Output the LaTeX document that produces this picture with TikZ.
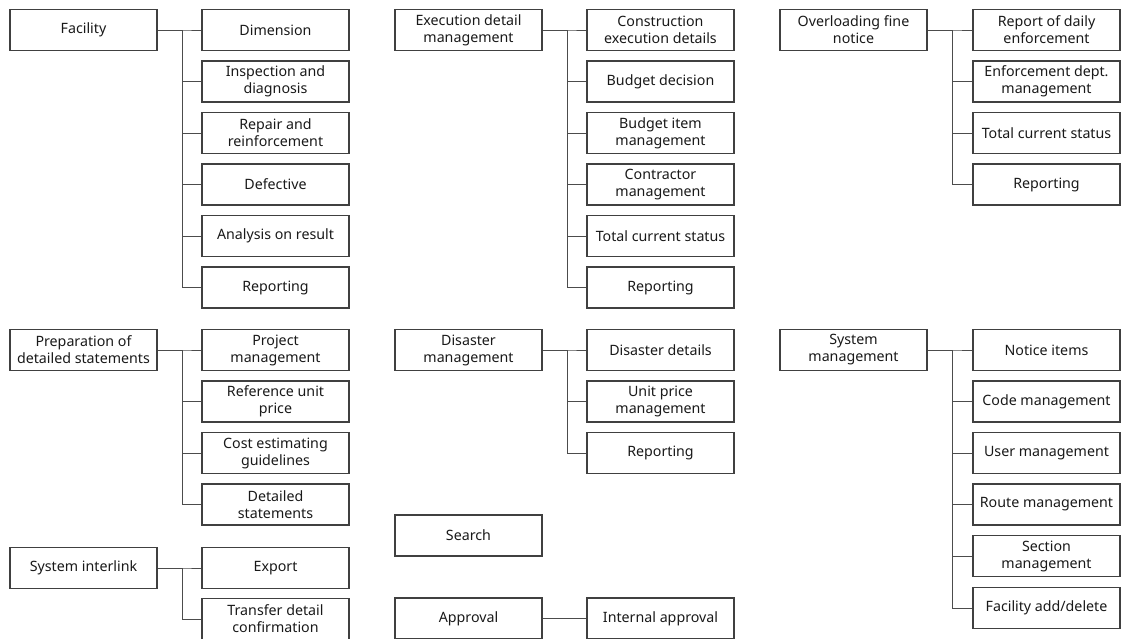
\documentclass[tikz,border=0pt]{standalone}
\usepackage{fontspec}
\setmainfont{Noto Sans}
\begin{document}
\begin{tikzpicture}[x=0.02cm,y=-0.02cm,
  box/.style={draw=black!75,line width=0.6pt,minimum width=2.94cm,minimum height=0.82cm,
    inner sep=1pt,align=center,text=black!90,font=\fontsize{8.1pt}{9.7pt}\selectfont},
  link/.style={draw=black!70,line width=0.5pt}]
\useasboundingbox (0,0) rectangle (1123,639);
% facility
\node[box] (fac) at (83.5,30) {Facility};
\node[box] (fac1) at (275.5,30) {Dimension};
\node[box] (fac2) at (275.5,81.5) {Inspection and\\diagnosis};
\node[box] (fac3) at (275.5,133) {Repair and\\reinforcement};
\node[box] (fac4) at (275.5,184.5) {Defective};
\node[box] (fac5) at (275.5,236) {Analysis on result};
\node[box] (fac6) at (275.5,287.5) {Reporting};
\foreach \c in {fac1,fac2,fac3,fac4,fac5,fac6}
  \draw[link] (fac.east) -- ++(25,0) |- (\c.west);
% execution detail
\node[box] (exe) at (468.5,30) {Execution detail\\management};
\node[box] (exe1) at (660.5,30) {Construction\\execution details};
\node[box] (exe2) at (660.5,81.5) {Budget decision};
\node[box] (exe3) at (660.5,133) {Budget item\\management};
\node[box] (exe4) at (660.5,184.5) {Contractor\\management};
\node[box] (exe5) at (660.5,236) {Total current status};
\node[box] (exe6) at (660.5,287.5) {Reporting};
\foreach \c in {exe1,exe2,exe3,exe4,exe5,exe6}
  \draw[link] (exe.east) -- ++(25,0) |- (\c.west);
% overloading fine
\node[box] (ovl) at (853.5,30) {Overloading fine\\notice};
\node[box] (ovl1) at (1046.5,30) {Report of daily\\enforcement};
\node[box] (ovl2) at (1046.5,81.5) {Enforcement dept.\\management};
\node[box] (ovl3) at (1046.5,133) {Total current status};
\node[box] (ovl4) at (1046.5,184.5) {Reporting};
\foreach \c in {ovl1,ovl2,ovl3,ovl4}
  \draw[link] (ovl.east) -- ++(25,0) |- (\c.west);
% detailed statements
\node[box] (prep) at (83.5,350) {Preparation of\\detailed statements};
\node[box] (prep1) at (275.5,350) {Project\\management};
\node[box] (prep2) at (275.5,401.5) {Reference unit\\price};
\node[box] (prep3) at (275.5,453) {Cost estimating\\guidelines};
\node[box] (prep4) at (275.5,504.5) {Detailed\\statements};
\foreach \c in {prep1,prep2,prep3,prep4}
  \draw[link] (prep.east) -- ++(25,0) |- (\c.west);
% interlink
\node[box] (itl) at (83.5,568) {System interlink};
\node[box] (itl1) at (275.5,568) {Export};
\node[box] (itl2) at (275.5,619) {Transfer detail\\confirmation};
\foreach \c in {itl1,itl2}
  \draw[link] (itl.east) -- ++(25,0) |- (\c.west);
% disaster
\node[box] (dis) at (468.5,350) {Disaster\\management};
\node[box] (dis1) at (660.5,350) {Disaster details};
\node[box] (dis2) at (660.5,401.5) {Unit price\\management};
\node[box] (dis3) at (660.5,453) {Reporting};
\foreach \c in {dis1,dis2,dis3}
  \draw[link] (dis.east) -- ++(25,0) |- (\c.west);
\node[box] (srch) at (468.5,535.5) {Search};
\node[box] (apr) at (468.5,618.5) {Approval};
\node[box] (apr1) at (660.5,618.5) {Internal approval};
\draw[link] (apr.east) -- (apr1.west);
% system management
\node[box] (sys) at (853.5,350) {System\\management};
\node[box] (sys1) at (1046.5,350) {Notice items};
\node[box] (sys2) at (1046.5,401.5) {Code management};
\node[box] (sys3) at (1046.5,453) {User management};
\node[box] (sys4) at (1046.5,504.5) {Route management};
\node[box] (sys5) at (1046.5,556) {Section\\management};
\node[box] (sys6) at (1046.5,608) {Facility add/delete};
\foreach \c in {sys1,sys2,sys3,sys4,sys5,sys6}
  \draw[link] (sys.east) -- ++(25,0) |- (\c.west);
\end{tikzpicture}
\end{document}
